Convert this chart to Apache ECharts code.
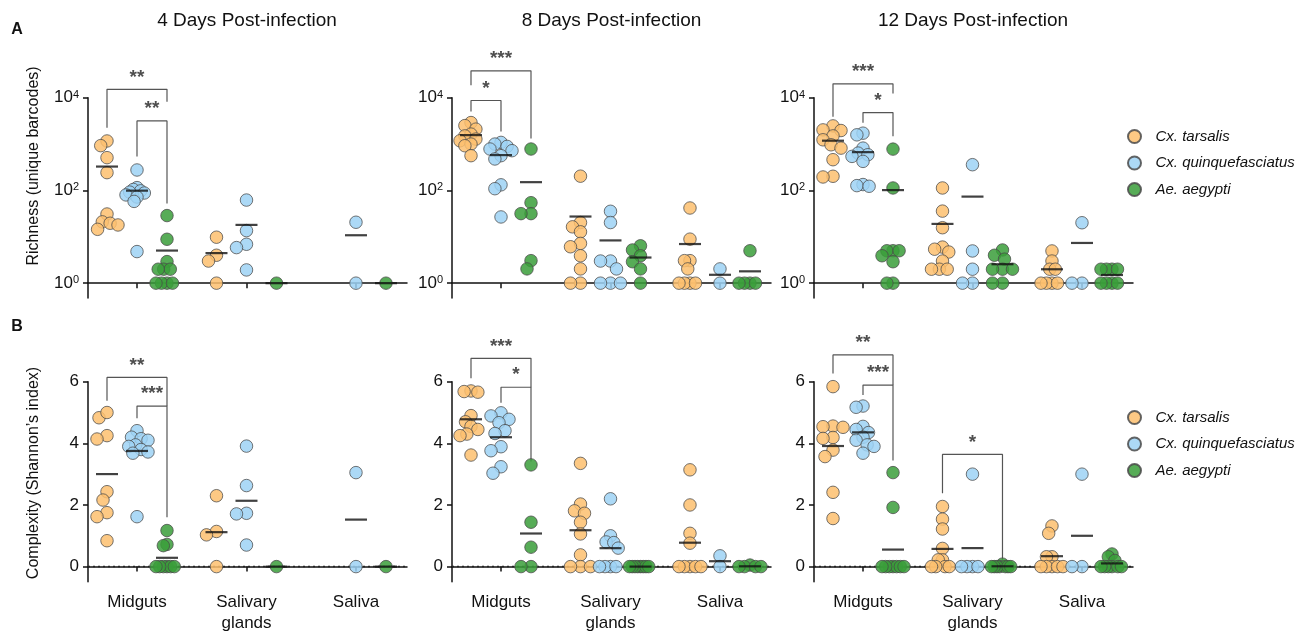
<!DOCTYPE html>
<html>
<head>
<meta charset="utf-8">
<script src="https://cdn.jsdelivr.net/npm/echarts@6/dist/echarts.min.js"></script>
<style>html,body{margin:0;padding:0;background:#fff}#chart{width:1313px;height:634px}</style>
</head>
<body>
<div id="chart"></div>
<script>
// categories
const days = ['4 Days Post-infection', '8 Days Post-infection', '12 Days Post-infection'];
const tissues = ['Midguts', 'Salivary\nglands', 'Saliva'];
const species = ['Cx. tarsalis', 'Cx. quinquefasciatus', 'Ae. aegypti'];
const speciesColors = ['#FDBF6F', '#9DD2F4', '#3A9E3A'];

// richness (unique barcodes), one list per tissue: [midguts, salivary glands, saliva]
const rich4Tarsalis = [[1165, 925, 509, 242, 31, 21, 19.6, 18, 14.5], [9.8, 4.0, 3.0, 1], []];
const rich4Quinq = [[276, 115, 105, 98, 92, 88, 80, 72, 58, 4.8], [62, 13.6, 6.9, 5.85, 1.93], [20.6, 1]];
const rich4Aegypti = [[28.7, 8.85, 2.92, 2, 2, 2, 1, 1, 1, 1], [1], [1]];

const rich8Tarsalis = [[2911, 2500, 2100, 1640, 1500, 1280, 1177, 1000, 920, 562], [203, 20.3, 16.4, 12.8, 7.2, 6.1, 3.9, 2.03, 1, 1], [41.8, 8.9, 3.06, 3.06, 2.03, 1, 1, 1, 1]];
const rich8Quinq = [[1086, 1000, 891, 782, 720, 562, 477, 132, 109, 26.8], [35.5, 20.3, 3, 3, 2.03, 1, 1, 1], [2.03, 1]];
const rich8Aegypti = [[782, 54.4, 31.6, 31.6, 3.06, 2.03], [6.4, 5.2, 3.9, 2.9, 2.03, 1], [5, 1, 1, 1, 1]];

const rich12Tarsalis = [[2466, 2023, 1959, 1500, 1236, 965, 818, 460, 202, 195], [113, 35.8, 15.7, 6, 5.4, 4.7, 3, 2, 2, 2], [4.95, 3, 2, 2, 1, 1, 1, 1]];
const rich12Quinq = [[1718, 1582, 818, 639, 589, 542, 423, 134, 127, 123], [359, 4.95, 2, 1, 1], [20.1, 1, 1]];
const rich12Aegypti = [[778, 113, 5, 5, 5, 3.9, 2.9, 1, 1], [5.2, 4, 3.3, 2, 2, 2, 1, 1], [2, 2, 2, 2, 1, 1, 1, 1]];

// complexity (Shannon's index)
const comp4Tarsalis = [[4.83, 5.0, 4.25, 4.14, 2.43, 2.16, 1.75, 1.62, 0.84], [2.3, 1.14, 1.03, 0], []];
const comp4Quinq = [[4.41, 4.2, 4.15, 4.1, 3.95, 3.9, 3.8, 3.72, 3.68, 1.62], [3.91, 2.63, 1.73, 1.71, 0.70], [3.05, 0]];
const comp4Aegypti = [[1.17, 0.72, 0.68, 0, 0, 0, 0, 0, 0], [0], [0]];

const comp8Tarsalis = [[5.7, 5.68, 5.66, 4.9, 4.7, 4.55, 4.45, 4.3, 4.25, 3.62], [3.35, 2.03, 1.81, 1.73, 1.44, 1.06, 0.38, 0, 0, 0], [3.14, 2.0, 1.08, 0.76, 0, 0, 0, 0, 0]];
const comp8Quinq = [[4.99, 4.89, 4.78, 4.67, 4.41, 4.32, 3.89, 3.76, 3.24, 3.03], [2.2, 1.0, 0.8, 0.78, 0.6, 0, 0, 0, 0], [0.35, 0]];
const comp8Aegypti = [[3.3, 1.44, 0.63, 0, 0], [0, 0, 0, 0, 0, 0, 0, 0], [0.05, 0, 0, 0, 0]];

const comp12Tarsalis = [[5.84, 4.56, 4.54, 4.52, 4.19, 4.16, 3.78, 3.57, 2.41, 1.56], [1.95, 1.54, 1.22, 0.59, 0.22, 0.22, 0, 0, 0, 0], [1.32, 1.08, 0.32, 0.32, 0, 0, 0, 0, 0]];
const comp12Quinq = [[5.21, 5.17, 4.55, 4.45, 4.35, 4.2, 4.1, 3.95, 3.9, 3.68], [3.0, 0, 0, 0, 0], [3.0, 0, 0]];
const comp12Aegypti = [[3.05, 1.92, 0, 0, 0, 0, 0, 0, 0], [0.08, 0, 0, 0, 0, 0, 0, 0], [0.41, 0.32, 0.2, 0, 0, 0, 0, 0, 0]];

// significance brackets: [tissue, species a, species b, leg a end, leg b end, top, stars]
// (richness in log10 units of the axis)
const sigRich4 = [[0, 0, 2, 3.35, 3.91, 4.18, '**'], [0, 1, 2, 2.73, 1.72, 3.50, '**']];
const sigRich8 = [[0, 0, 2, 4.27, 3.12, 4.58, '***'], [0, 0, 1, 3.70, 3.27, 3.94, '*']];
const sigRich12 = [[0, 0, 2, 3.59, 4.09, 4.30, '***'], [0, 1, 2, 3.46, 3.17, 3.68, '*']];
const sigComp4 = [[0, 0, 2, 5.38, 5.21, 6.14, '**'], [0, 1, 2, 4.81, 1.60, 5.21, '***']];
const sigComp8 = [[0, 0, 2, 6.11, 5.82, 6.76, '***'], [0, 1, 2, 5.32, 3.41, 5.82, '*']];
const sigComp12 = [[0, 0, 2, 6.27, 5.89, 6.87, '**'], [0, 1, 2, 5.57, 3.44, 5.89, '***'], [1, 0, 2, 2.38, 0.22, 3.64, '*']];

const logTicks = [0, 2, 4];
const linTicks = [0, 2, 4, 6];

const FONT = '"Liberation Sans", Arial, sans-serif';
const panels = [
  { row: 0, col: 0, groups: [rich4Tarsalis, rich4Quinq, rich4Aegypti], sig: sigRich4 },
  { row: 0, col: 1, groups: [rich8Tarsalis, rich8Quinq, rich8Aegypti], sig: sigRich8 },
  { row: 0, col: 2, groups: [rich12Tarsalis, rich12Quinq, rich12Aegypti], sig: sigRich12 },
  { row: 1, col: 0, groups: [comp4Tarsalis, comp4Quinq, comp4Aegypti], sig: sigComp4 },
  { row: 1, col: 1, groups: [comp8Tarsalis, comp8Quinq, comp8Aegypti], sig: sigComp8 },
  { row: 1, col: 2, groups: [comp12Tarsalis, comp12Quinq, comp12Aegypti], sig: sigComp12 }
];

const gridLefts = [88, 452, 814];
const gridTops = [97.7, 381.7];
const gridHeights = [200.3, 200];
const gridWidth = 319;
const xMin = 0.5525, xMax = 3.466;
const pxPerX = gridWidth / (xMax - xMin);
const yMin = [-0.32, -0.49], yMax = [4, 6];
const speciesShift = [-0.274, 0, 0.274];

// y value drawn on the axis
const toAxis = (row, v) => row === 0 ? Math.log10(v) : v;

// small beeswarm so overlapping points are spread sideways
function swarm(vals, pxPerY) {
  const D = 9, step = 2, W = 11;
  const order = vals.map((v, i) => i).sort((a, b) => vals[b] - vals[a]);
  const placed = [];
  const off = vals.map(() => 0);
  order.forEach(i => {
    const y = vals[i] * pxPerY;
    for (let k = 0; k < 300; k++) {
      const dx = (k % 2 ? -1 : 1) * Math.ceil(k / 2) * step;
      if (placed.every(p => Math.hypot(p.x - dx, p.y - y) >= D)) {
        off[i] = dx; placed.push({ x: dx, y }); break;
      }
    }
  });
  const m = Math.max(0, ...off.map(Math.abs));
  const f = m > W ? W / m : 1;
  return off.map(o => o * f);
}

const grids = [], xAxes = [], yAxes = [], series = [];
panels.forEach((p, pi) => {
  grids.push({ left: gridLefts[p.col], top: gridTops[p.row], width: gridWidth, height: gridHeights[p.row], containLabel: false, outerBoundsMode: 'none' });
  xAxes.push({
    type: 'value', gridIndex: pi, min: xMin, max: xMax,
    axisLine: { lineStyle: { color: '#111', width: 1.5 } },
    axisTick: { customValues: [1, 2, 3], length: 5, lineStyle: { color: '#111', width: 1.5 } },
    axisLabel: {
      show: p.row === 1, customValues: [1, 2, 3], margin: 10,
      formatter: v => tissues[Math.round(v) - 1],
      fontFamily: FONT, fontSize: 17, color: '#111', lineHeight: 21
    },
    splitLine: { show: false }
  });
  const ticks = p.row === 0 ? logTicks : linTicks;
  yAxes.push({
    type: 'value', gridIndex: pi, min: yMin[p.row], max: yMax[p.row],
    axisLine: { show: true, lineStyle: { color: '#111', width: 1.5 } },
    axisTick: { show: true, customValues: ticks, length: 5, lineStyle: { color: '#111', width: 1.5 } },
    axisLabel: {
      customValues: ticks, margin: 9, fontFamily: FONT, fontSize: 17, color: '#111',
      formatter: p.row === 0 ? (v => '{b|10}{s|' + v + '}') : (v => String(v)),
      rich: {
        b: { fontFamily: FONT, fontSize: 17, color: '#111' },
        s: { fontFamily: FONT, fontSize: 11, color: '#111', verticalAlign: 'top' }
      }
    },
    splitLine: { show: false }
  });
  const pxPerY = gridHeights[p.row] / (yMax[p.row] - yMin[p.row]);

  // dots
  p.groups.forEach((tissueLists, s) => {
    const data = [];
    tissueLists.forEach((vals, t) => {
      const yv = vals.map(v => toAxis(p.row, v));
      const off = swarm(yv, pxPerY);
      yv.forEach((y, i) => data.push([t + 1 + speciesShift[s] + off[i] / pxPerX, y]));
    });
    series.push({
      type: 'scatter', name: species[s], xAxisIndex: pi, yAxisIndex: pi, data,
      symbolSize: 12.5, z: 3, clip: false,
      itemStyle: { color: speciesColors[s], borderColor: '#4a4a4a', borderWidth: 0.9, opacity: 0.85 },
      emphasis: { disabled: true }
    });
  });

  // mean lines
  const means = [];
  p.groups.forEach((tissueLists, s) => {
    tissueLists.forEach((vals, t) => {
      if (!vals.length) return;
      const m = vals.reduce((a, b) => a + b, 0) / vals.length;
      means.push([t + 1 + speciesShift[s], toAxis(p.row, m)]);
    });
  });
  series.push({
    type: 'scatter', name: 'mean', xAxisIndex: pi, yAxisIndex: pi, data: means,
    symbol: 'rect', symbolSize: [22, 2.2], z: 4, clip: false, silent: true,
    itemStyle: { color: '#111' }
  });

  // dotted zero line in the Shannon panels
  if (p.row === 1) {
    series.push({
      type: 'line', name: 'zero', xAxisIndex: pi, yAxisIndex: pi, data: [[1, 0]],
      showSymbol: false, silent: true, z: 1,
      markLine: {
        silent: true, z: 1, symbol: ['none', 'none'], label: { show: false },
        lineStyle: { color: '#222', width: 1.4, type: [2, 3] },
        data: [{ yAxis: 0 }]
      }
    });
  }

  // significance brackets
  p.sig.forEach(([t, a, b, ya, yb, top, stars]) => {
    const xa = t + 1 + speciesShift[a], xb = t + 1 + speciesShift[b];
    series.push({
      type: 'line', name: 'bracket', xAxisIndex: pi, yAxisIndex: pi,
      data: [[xa, ya], [xa, top], [xb, top], [xb, yb]],
      showSymbol: false, clip: false, silent: true, z: 2,
      lineStyle: { color: '#555', width: 1.2 }
    });
    series.push({
      type: 'scatter', name: 'stars', xAxisIndex: pi, yAxisIndex: pi,
      data: [[(xa + xb) / 2, top, stars]], symbolSize: 1, clip: false, silent: true, z: 5,
      itemStyle: { color: 'rgba(0,0,0,0)' },
      label: {
        show: true, position: 'top', distance: 2, formatter: q => q.value[2],
        fontFamily: FONT, fontWeight: 'bold', fontSize: 19, color: '#222'
      }
    });
  });
});

const legendBase = {
  data: species, orient: 'vertical', left: 1122, icon: 'circle',
  itemWidth: 32, itemHeight: 13, itemGap: 11.5, selectedMode: false,
  textStyle: { fontFamily: FONT, fontStyle: 'italic', fontSize: 15, color: '#111' }
};

const textEl = (text, x, y, size, extra) => Object.assign({
  type: 'text', x, y,
  style: { text, font: size + 'px ' + FONT, fill: '#111', align: 'center', verticalAlign: 'middle' }
}, extra || {});

const graphics = [
  textEl('A', 17, 30, 16, { style: { text: 'A', font: 'bold 16px ' + FONT, fill: '#111', align: 'center', verticalAlign: 'middle' } }),
  textEl('B', 17, 327, 16, { style: { text: 'B', font: 'bold 16px ' + FONT, fill: '#111', align: 'center', verticalAlign: 'middle' } }),
  textEl(days[0], 247, 21, 19),
  textEl(days[1], 611.5, 21, 19),
  textEl(days[2], 973, 21, 19),
  textEl('Richness (unique barcodes)', 34, 166, 16, { rotation: Math.PI / 2 }),
  textEl('Complexity (Shannon\u2019s index)', 34, 473, 16, { rotation: Math.PI / 2 })
];

const chart = echarts.init(document.getElementById('chart'));
chart.setOption({
  animation: false,
  backgroundColor: '#fff',
  grid: grids,
  xAxis: xAxes,
  yAxis: yAxes,
  legend: [Object.assign({ top: 124 }, legendBase), Object.assign({ top: 405 }, legendBase)],
  graphic: graphics,
  series
});
</script>
</body>
</html>
